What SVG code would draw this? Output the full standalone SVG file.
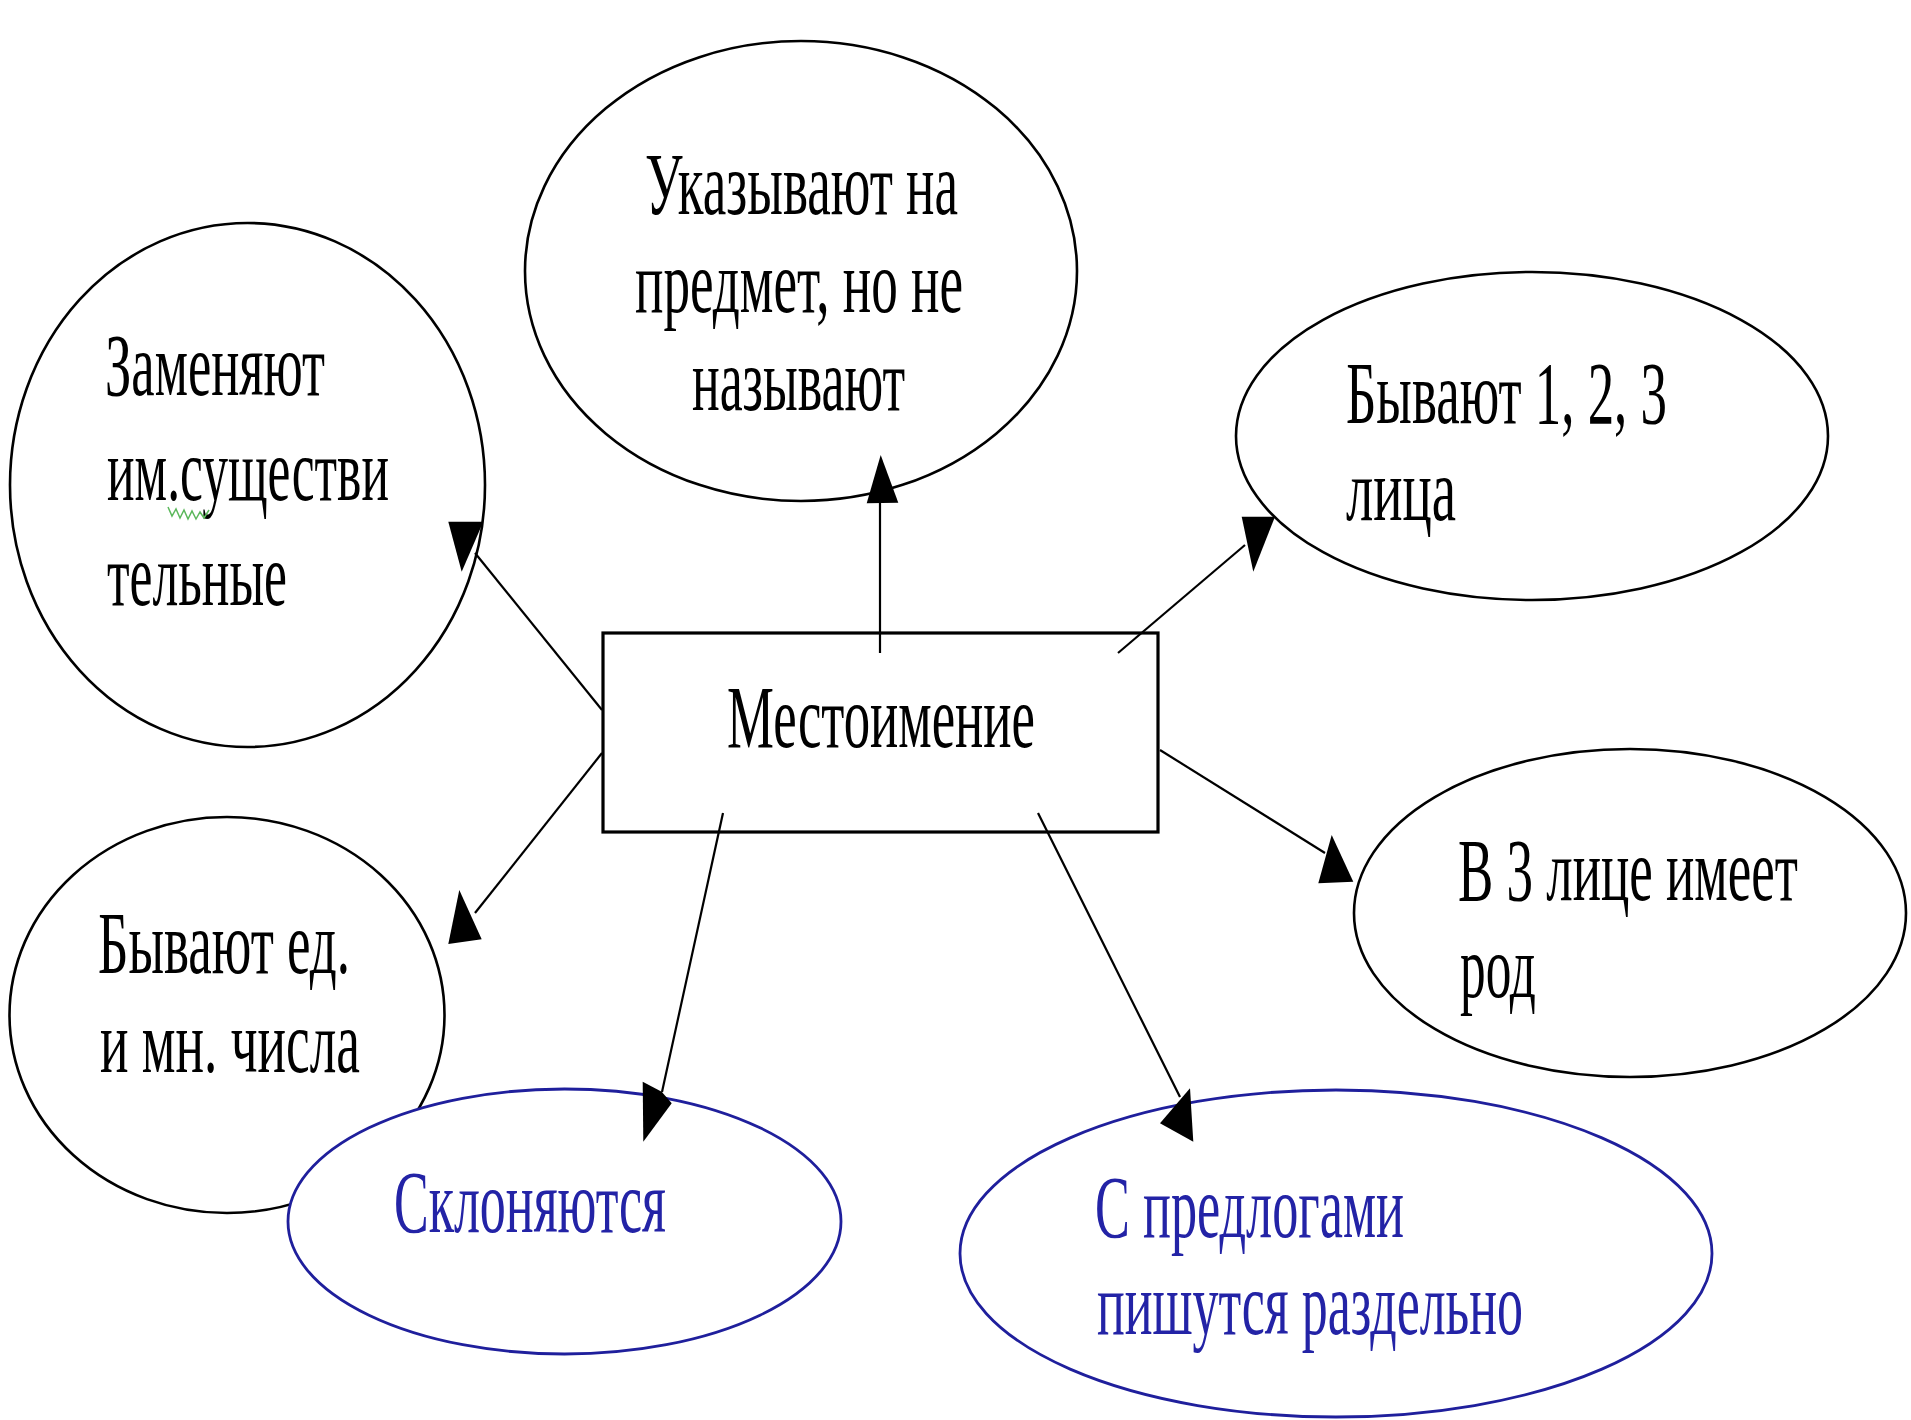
<svg xmlns="http://www.w3.org/2000/svg" width="1911" height="1420" viewBox="0 0 1911 1420">
<style>
.blk{fill:#ffffff;stroke:#000000;stroke-width:2.6}
.blu{fill:#ffffff;stroke:#1f1f9c;stroke-width:2.8}
.box{fill:#ffffff;stroke:#000000;stroke-width:3.2}
.t{font-family:"Liberation Serif","Times New Roman",serif;font-size:88px;fill:#000000}
.tb{font-family:"Liberation Serif","Times New Roman",serif;font-size:88px;fill:#2323a6}
.ln{stroke:#000000;stroke-width:2.2;fill:none}
.ah{fill:#000000;stroke:none}
</style>
<rect x="0" y="0" width="1911" height="1420" fill="#ffffff"/>
<g id="node-top">
<ellipse class="blk" cx="801" cy="271" rx="276" ry="230"/>
<text class="t" x="645" y="214" textLength="313" lengthAdjust="spacingAndGlyphs">Указывают на</text>
<text class="t" x="635" y="312" textLength="328" lengthAdjust="spacingAndGlyphs">предмет, но не</text>
<text class="t" x="692" y="410" textLength="213" lengthAdjust="spacingAndGlyphs">называют</text>
</g>
<g id="node-left-top">
<ellipse class="blk" cx="247.5" cy="485" rx="237.5" ry="262"/>
<text class="t" x="105" y="395" textLength="220" lengthAdjust="spacingAndGlyphs">Заменяют</text>
<text class="t" x="107" y="500" textLength="282" lengthAdjust="spacingAndGlyphs">им.существи</text>
<text class="t" x="107" y="605" textLength="180" lengthAdjust="spacingAndGlyphs">тельные</text>
<polyline points="168,507 172,516 176,509 180,518 184,510 188,519 192,511 196,519 200,512 204,518 209,510" fill="none" stroke="#5cb85c" stroke-width="1.5"/>
</g>
<g id="node-right-top">
<ellipse class="blk" cx="1532" cy="436" rx="296" ry="164"/>
<text class="t" x="1346" y="423" textLength="321" lengthAdjust="spacingAndGlyphs">Бывают 1, 2, 3</text>
<text class="t" x="1346" y="520" textLength="110" lengthAdjust="spacingAndGlyphs">лица</text>
</g>
<g id="node-right">
<ellipse class="blk" cx="1630" cy="913" rx="276" ry="164"/>
<text class="t" x="1458" y="900" textLength="340" lengthAdjust="spacingAndGlyphs">В 3 лице имеет</text>
<text class="t" x="1460" y="997" textLength="76" lengthAdjust="spacingAndGlyphs">род</text>
</g>
<g id="node-left-bottom">
<ellipse class="blk" cx="227" cy="1015" rx="217.5" ry="198"/>
<text class="t" x="98" y="973" textLength="252" lengthAdjust="spacingAndGlyphs">Бывают ед.</text>
<text class="t" x="100" y="1072" textLength="260" lengthAdjust="spacingAndGlyphs">и мн. числа</text>
</g>
<g id="node-sklon">
<ellipse class="blu" cx="564.5" cy="1221.5" rx="276.5" ry="132.5"/>
<text class="tb" x="394" y="1232" textLength="272" lengthAdjust="spacingAndGlyphs">Склоняются</text>
</g>
<g id="node-predlog">
<ellipse class="blu" cx="1336" cy="1253.5" rx="376" ry="163.5"/>
<text class="tb" x="1095" y="1237" textLength="309" lengthAdjust="spacingAndGlyphs">С предлогами</text>
<text class="tb" x="1097" y="1334" textLength="426" lengthAdjust="spacingAndGlyphs">пишутся раздельно</text>
</g>
<g id="node-center">
<rect class="box" x="603" y="633" width="555" height="199"/>
<text class="t" x="727" y="747" textLength="308" lengthAdjust="spacingAndGlyphs">Местоимение</text>
</g>
<g id="connectors">
<line class="ln" x1="880" y1="653" x2="880" y2="503"/>
<polygon class="ah" points="880.7,455 866.7,503.3 898.3,502.7"/>
<line class="ln" x1="602" y1="710" x2="475" y2="553"/>
<polygon class="ah" points="448.3,521.7 483.3,521.7 461.7,571.7"/>
<line class="ln" x1="602" y1="753" x2="475" y2="913"/>
<polygon class="ah" points="459.3,890 448.3,944 481.7,939.3"/>
<line class="ln" x1="723" y1="813" x2="662" y2="1092"/>
<polygon class="ah" points="642.7,1081.7 661.7,1091.7 671.7,1103.3 643.3,1141.7"/>
<line class="ln" x1="1038" y1="813" x2="1180" y2="1097"/>
<polygon class="ah" points="1190,1088.3 1160,1123.3 1193.3,1141.7"/>
<line class="ln" x1="1118" y1="653" x2="1245" y2="545"/>
<polygon class="ah" points="1241.7,516.7 1275,516.7 1253.3,571.7"/>
<line class="ln" x1="1160" y1="750" x2="1325" y2="853"/>
<polygon class="ah" points="1331.7,835 1318.3,883.3 1353.3,881.7"/>
</g>
</svg>
